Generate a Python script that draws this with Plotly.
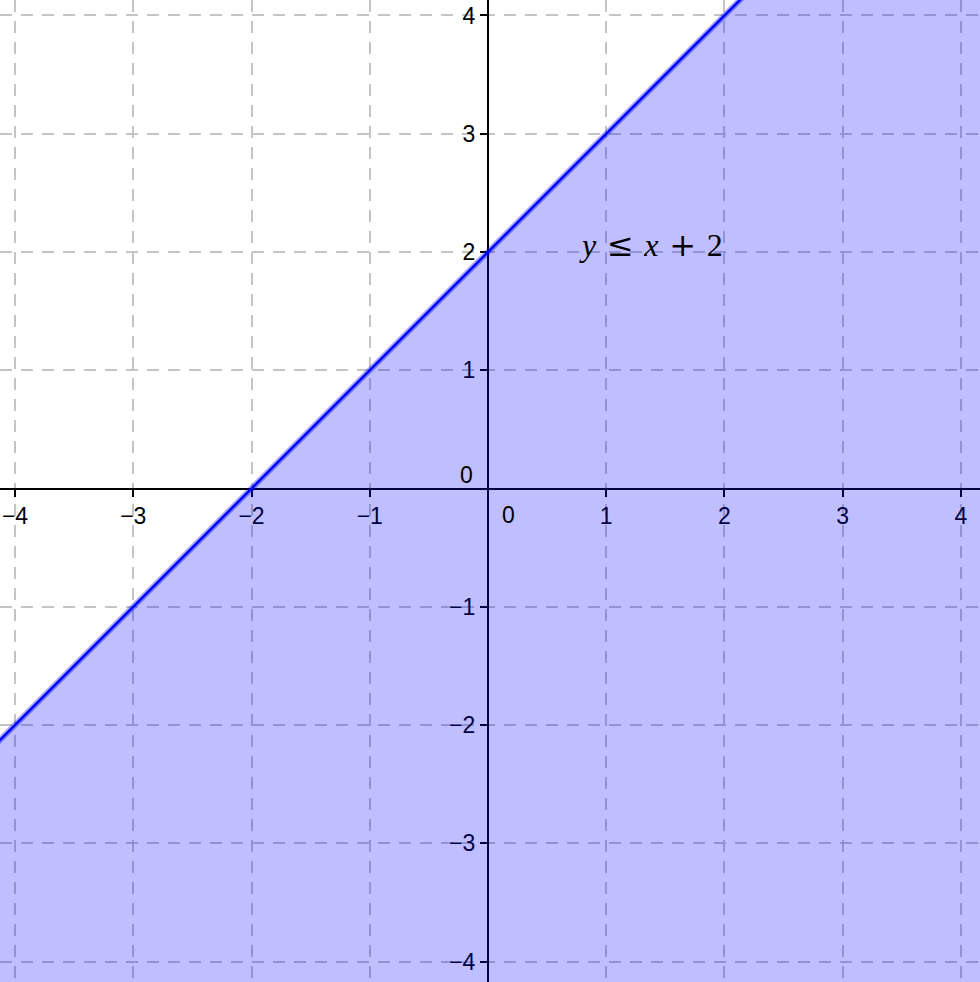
import plotly.graph_objects as go

# inequality y <= x + 2, drawn over the window below
x_range = [-4.127, 4.161]
y_range = [-4.173, 4.131]

line_x = [-4.3, 4.3]
line_y = [-2.3, 6.3]
floor_y = [-4.3, -4.3]

tick_vals = [-4, -3, -2, -1, 1, 2, 3, 4]
tick_text = ["\u22124", "\u22123", "\u22122", "\u22121", "1", "2", "3", "4"]

OP = '<span style="font-family:DejaVu Serif">{}</span>'
SP = "\u2004"
label_text = ("<i>y</i>" + SP + OP.format("\u2264") + SP + "<i>x</i>" + SP
              + OP.format("+") + SP + "2")
label_pos = (1.38, 2.06)

FONT = "Liberation Sans, Arial, sans-serif"
GRID = "#c4c4c4"

fig = go.Figure()

# bottom edge for the shaded half-plane
fig.add_trace(go.Scatter(x=line_x, y=floor_y, mode="lines",
                         line=dict(width=0), hoverinfo="skip", showlegend=False))
# shaded region + halo of the boundary
fig.add_trace(go.Scatter(x=line_x, y=line_y, mode="lines", fill="tonexty",
                         fillcolor="rgba(0,0,255,0.25)",
                         line=dict(color="rgba(0,0,255,0.35)", width=6),
                         hoverinfo="skip", showlegend=False))
# boundary line
fig.add_trace(go.Scatter(x=line_x, y=line_y, mode="lines",
                         line=dict(color="#0000ff", width=2.5),
                         hoverinfo="skip", showlegend=False))

axis_common = dict(
    showgrid=True, gridcolor=GRID, gridwidth=2, griddash="12px,9px",
    zeroline=False, showline=True, linecolor="#000000", linewidth=2,
    ticks="outside", ticklen=7, tickwidth=2, tickcolor="#000000",
    tickvals=tick_vals, ticktext=tick_text,
    tickfont=dict(family=FONT, size=23, color="#000000"),
    layer="below traces", anchor="free", fixedrange=True,
)

fig.update_xaxes(range=x_range, position=(0 - y_range[0]) / (y_range[1] - y_range[0]),
                 **axis_common)
fig.update_yaxes(range=y_range, position=(0 - x_range[0]) / (x_range[1] - x_range[0]),
                 **axis_common)

# the two zero labels sit off the origin, like in the original
fig.add_annotation(x=0, y=0, xref="x", yref="y", text="0", showarrow=False,
                   xshift=21, yshift=-26, font=dict(family=FONT, size=23, color="#000000"))
fig.add_annotation(x=0, y=0, xref="x", yref="y", text="0", showarrow=False,
                   xshift=-21, yshift=14, font=dict(family=FONT, size=23, color="#000000"))

fig.add_annotation(x=label_pos[0], y=label_pos[1], xref="x", yref="y", text=label_text,
                   showarrow=False,
                   font=dict(family="Liberation Serif, Times New Roman, serif", size=32,
                             color="#000000"))

fig.update_layout(
    width=980, height=982,
    margin=dict(l=0, r=0, t=0, b=0),
    plot_bgcolor="#ffffff", paper_bgcolor="#ffffff",
    showlegend=False,
)

# drop the default page margin so the chart fills the window
fig.write_html("out.html", config={"displayModeBar": False},
               post_script="document.body.style.margin='0';")
